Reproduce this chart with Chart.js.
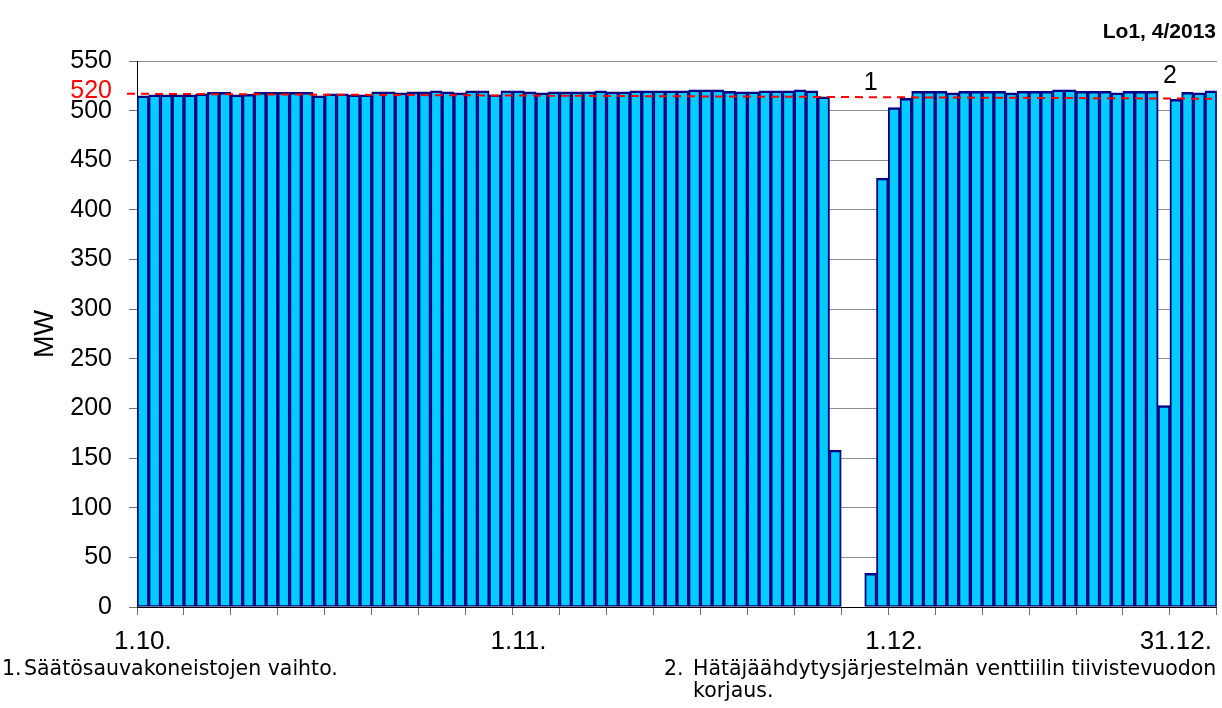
<!DOCTYPE html>
<html>
<head>
<meta charset="utf-8">
<script src="https://cdn.jsdelivr.net/npm/chart.js@4.4.1/dist/chart.umd.min.js"></script>
<style>
  body { margin: 0; background: #fff; font-family: "Liberation Sans", Arial, sans-serif; }
  #wrap { position: relative; width: 1222px; height: 708px; overflow: hidden; }
  #chartBox { position: absolute; left: 0; top: 0; width: 1222px; height: 660px; }
  .title { position: absolute; right: 6px; top: 19px; font-weight: bold; font-size: 21px; }
  .note { position: absolute; font-family: "DejaVu Sans", sans-serif; font-size: 20.5px; line-height: 22px; white-space: nowrap; }
</style>
</head>
<body>
<div id="wrap">
  <div id="chartBox"><canvas id="powerChart"></canvas></div>
  <div class="title">Lo1, 4/2013</div>
  <div class="note" style="left:2px; top:657px;">1.</div>
  <div class="note" style="left:24px; top:657px;">Säätösauvakoneistojen vaihto.</div>
  <div class="note" style="left:664px; top:657px;">2.</div>
  <div class="note" style="left:693px; top:657px;">Hätäjäähdytysjärjestelmän venttiilin tiivistevuodon<br>korjaus.</div>
</div>
<script>
// days 1.10. - 31.12.
const monthNums = [10, 11, 12];
const monthDays = [31, 30, 31];
const days = [];
monthNums.forEach((m, i) => {
    for (let d = 1; d <= monthDays[i]; d++) days.push(d + "." + m + ".");
});

// daily average power, MW
const mw = [
    515, 516, 516, 516, 516, 517, 518.5, 518.5, 516, 516.5,
    518.5, 518.5, 518.5, 518.5, 518.5, 515, 517, 517, 516, 516,
    519, 519, 518, 519, 519, 520, 519, 518, 520, 520,
    516, 520, 520, 519, 518, 519, 519, 519, 519, 520,
    519, 519, 520, 520, 520, 520, 520, 521, 521, 521,
    519.5, 519, 519, 520, 520, 520, 521, 520, 514, 158,
    null, null, 34, 432, 503, 512.5, 519.5, 519.5, 519.5, 518,
    519.5, 519.5, 519.5, 519.5, 518, 519.5, 519.5, 519.5, 521, 521,
    519.5, 519.5, 519.5, 518, 519.5, 519.5, 519.5, 203, 511.5, 518.5,
    518, 520
];

// x axis labels shown under the chart
const tickIndex = [0, 32, 64, 88];
const tickText = ["1.10.", "1.11.", "1.12.", "31.12."];

// reference line (drawn slightly sloping in the original)
const refStart = 517;
const refEnd = 512;
const refLabel = 520;

// footnote markers
const noteIndex = [62, 87.5];
const noteValue = [527.5, 535];
const noteText = ["1", "2"];

const FONT = "'Liberation Sans', Arial, sans-serif";

const overlayPlugin = {
    id: "overlay",
    afterDatasetsDraw(chart) {
        const ctx = chart.ctx;
        const x = chart.scales.x, y = chart.scales.y;
        const area = chart.chartArea;

        // red dashed line
        ctx.save();
        ctx.strokeStyle = "#ff0000";
        ctx.lineWidth = 2;
        ctx.setLineDash([8, 6]);
        ctx.beginPath();
        ctx.moveTo(area.left - 10, y.getPixelForValue(refStart));
        ctx.lineTo(area.right - 5, y.getPixelForValue(refEnd));
        ctx.stroke();
        ctx.restore();

        // markers 1 and 2
        ctx.save();
        ctx.fillStyle = "#000";
        ctx.font = "25px " + FONT;
        ctx.textAlign = "center";
        ctx.textBaseline = "middle";
        noteText.forEach((t, i) => {
            ctx.fillText(t, x.getPixelForValue(noteIndex[i]), y.getPixelForValue(noteValue[i]));
        });
        ctx.restore();
    }
};

const ctx = document.getElementById("powerChart").getContext("2d");
new Chart(ctx, {
    type: "bar",
    data: {
        labels: days,
        datasets: [{
            data: mw,
            backgroundColor: "#00ccff",
            borderColor: "#000080",
            borderWidth: { top: 2.5, left: 2, right: 2, bottom: 1.5 },
            borderSkipped: false,
            barPercentage: 1,
            categoryPercentage: 1
        }]
    },
    options: {
        responsive: true,
        maintainAspectRatio: false,
        animation: false,
        layout: { padding: { top: 61, right: 2, left: 0, bottom: 0 } },
        plugins: {
            legend: { display: false },
            tooltip: { enabled: false }
        },
        scales: {
            x: {
                offset: true,
                afterFit: s => { s.height = 53; },
                border: { color: "#000", width: 1 },
                grid: {
                    offset: true,
                    drawOnChartArea: false,
                    tickLength: 8,
                    tickColor: c => (c.index === undefined || c.index % 4 === 0) ? "#707070" : "rgba(0,0,0,0)"
                },
                ticks: {
                    autoSkip: false,
                    maxRotation: 0,
                    minRotation: 0,
                    padding: 11,
                    color: "#000",
                    font: { family: FONT, size: 26 },
                    callback: (v, i) => {
                        const k = tickIndex.indexOf(i);
                        return k >= 0 ? tickText[k] : "";
                    }
                }
            },
            y: {
                min: 0,
                max: 550,
                afterFit: s => { s.width = 137; },
                afterBuildTicks: s => {
                    s.ticks.push({ value: refLabel });
                    s.ticks.sort((a, b) => a.value - b.value);
                },
                border: { color: "#000", width: 1 },
                grid: {
                    color: c => (c.tick && c.tick.value === refLabel) ? "rgba(0,0,0,0)" : "#8c8c8c",
                    tickColor: c => (c.tick && c.tick.value === refLabel) ? "rgba(0,0,0,0)" : "#707070",
                    tickLength: 8
                },
                ticks: {
                    stepSize: 50,
                    padding: 17,
                    color: c => (c.tick && c.tick.value === refLabel) ? "#ff0000" : "#000",
                    font: { family: FONT, size: 25 }
                },
                title: {
                    display: true,
                    text: "MW",
                    color: "#000",
                    font: { family: FONT, size: 27 },
                    padding: { top: 29, bottom: 0 }
                }
            }
        }
    },
    plugins: [overlayPlugin]
});
</script>
</body>
</html>
